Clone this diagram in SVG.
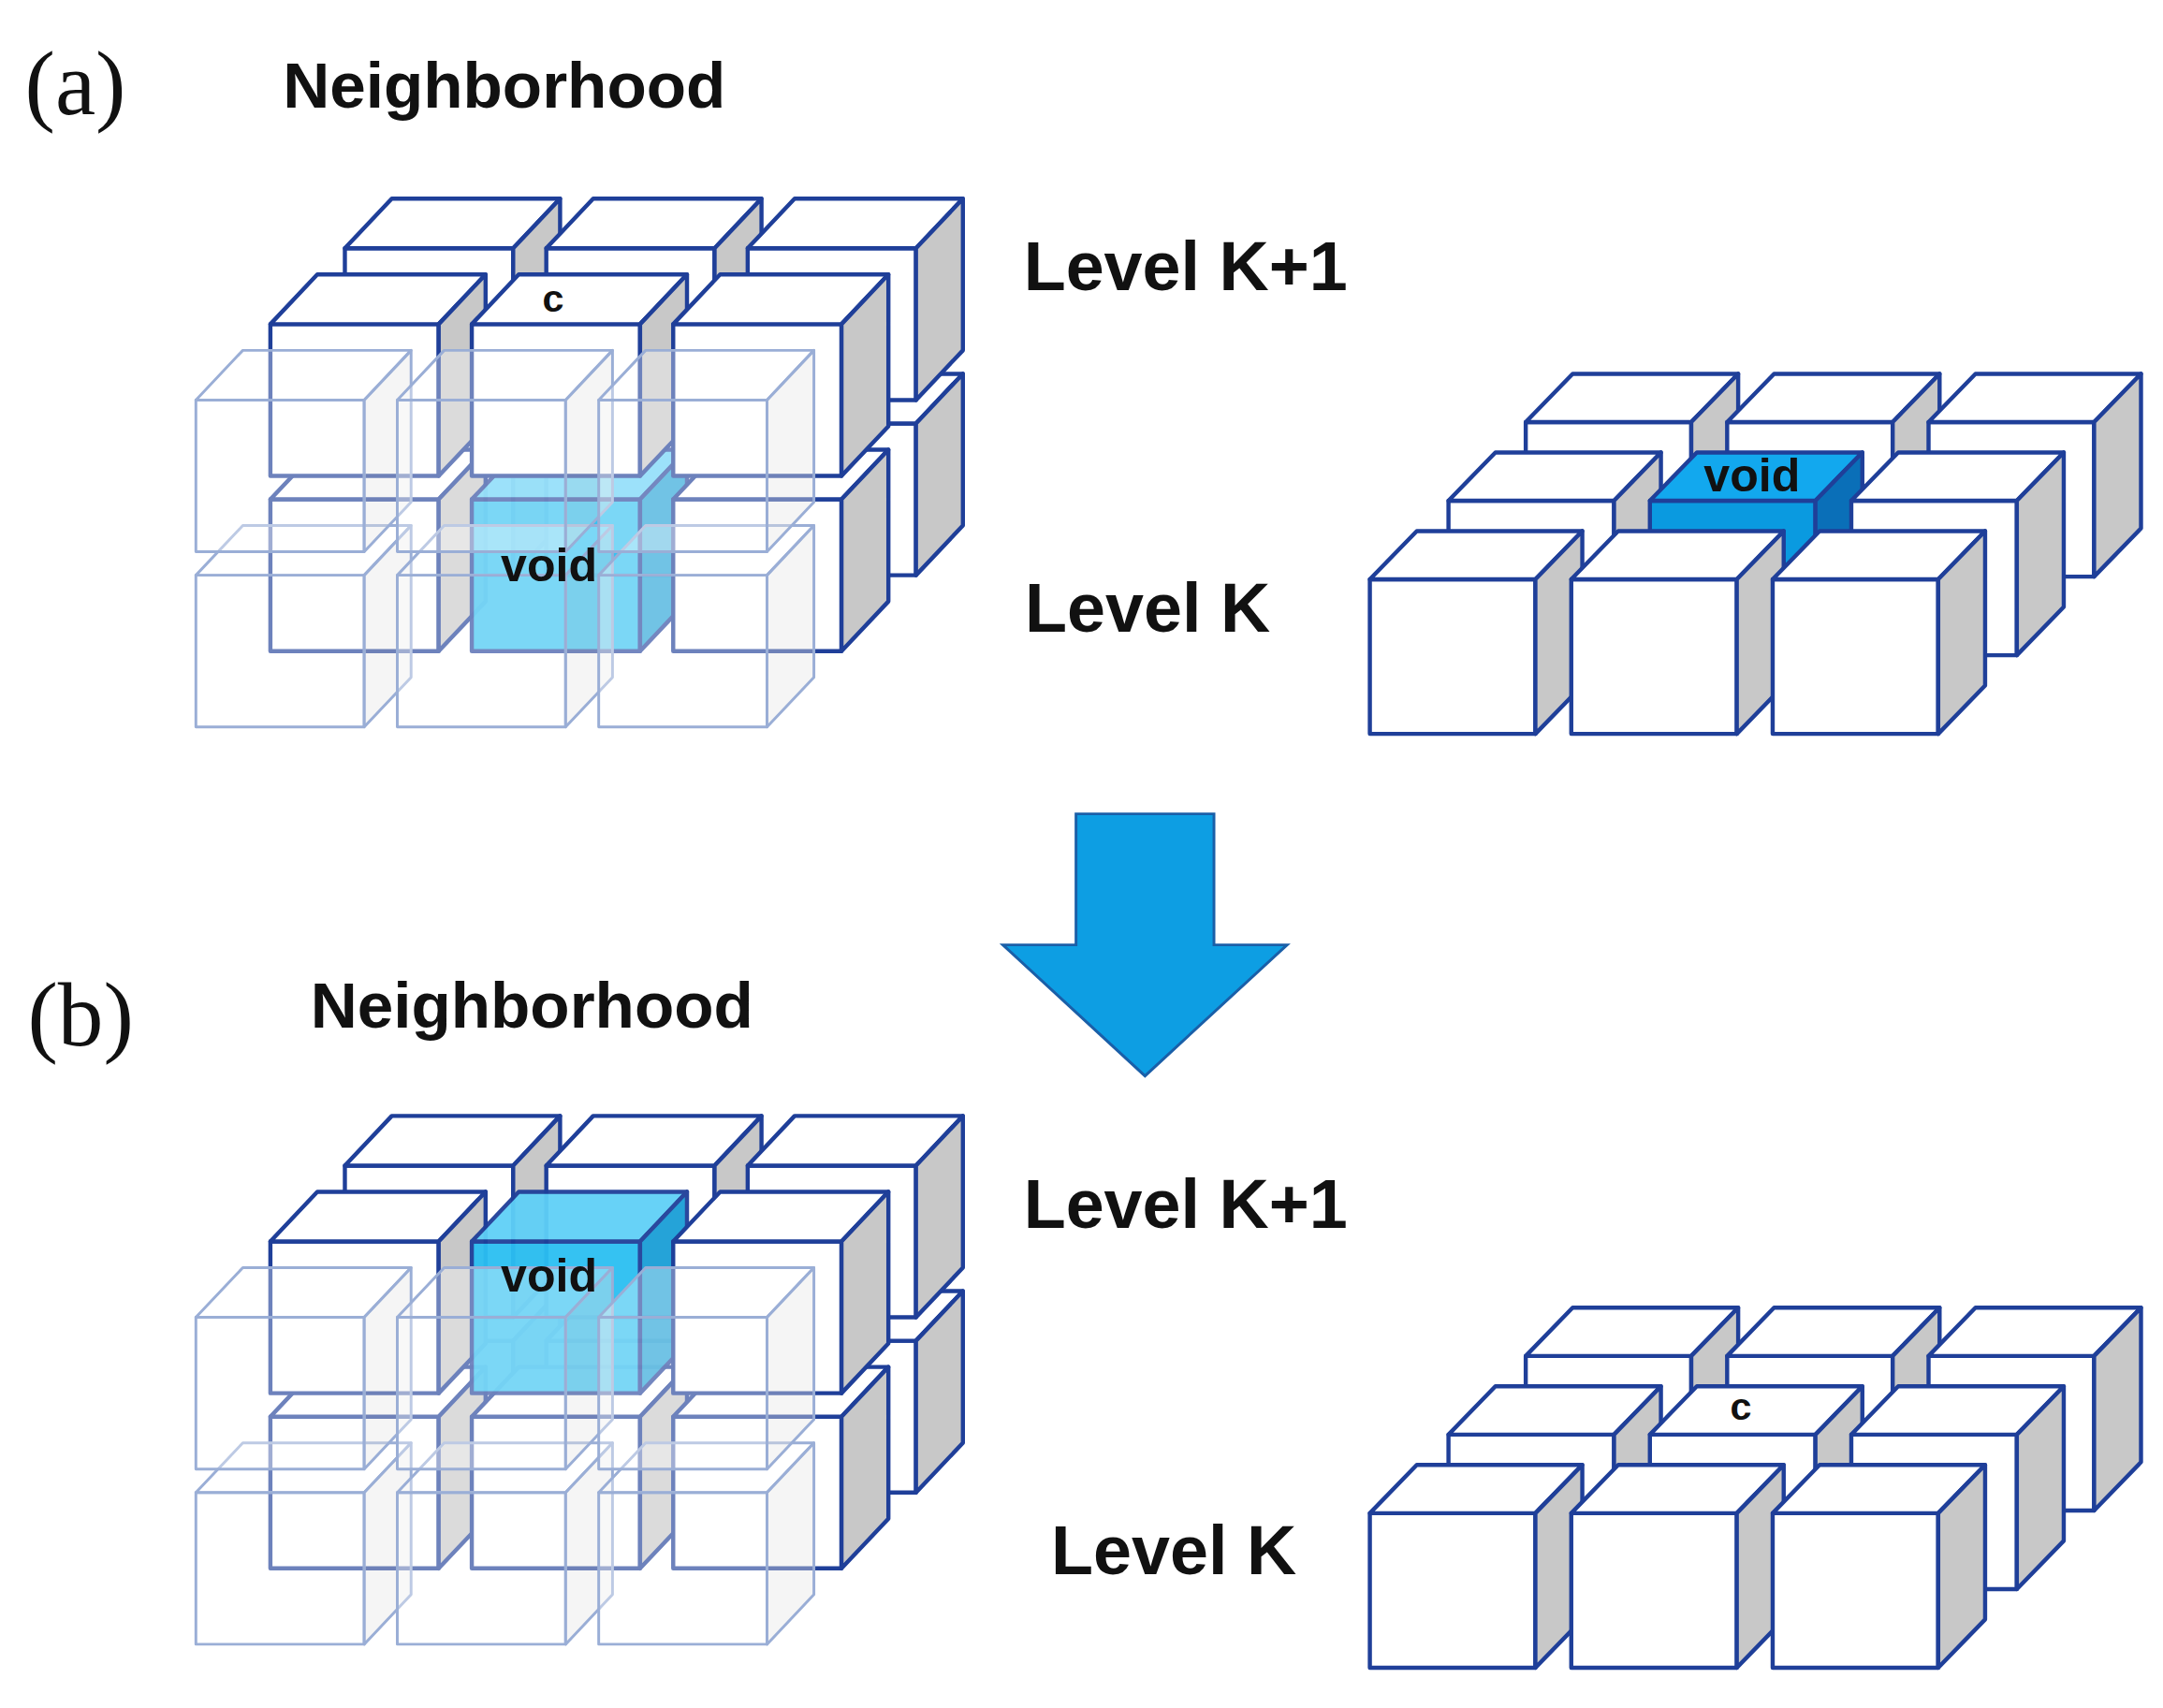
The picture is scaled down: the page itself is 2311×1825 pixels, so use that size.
<svg xmlns="http://www.w3.org/2000/svg" xmlns:xlink="http://www.w3.org/1999/xlink" width="2311" height="1825" viewBox="0 0 2311 1825">
<style>
.e{stroke:#1f3f99;stroke-width:3;stroke-linejoin:round}
.w{fill:#fff}.g{fill:#c8c8c8}
.f{stroke:#9aaed6;stroke-width:2;stroke-linejoin:round}
.fw{fill:#fff;fill-opacity:.35}.fg{fill:#e6e6e6;fill-opacity:.4}
.lab{font-family:"Liberation Sans",Arial,sans-serif;font-weight:bold;fill:#111}
.ser{font-family:"Liberation Serif","Times New Roman",serif;fill:#111}
</style>
<defs>
<g id="cL"><rect class="e w" x="0" y="0" width="122" height="110"/><polygon class="e w" points="0,0 34,-36 156,-36 122,0"/><polygon class="e g" points="122,0 156,-36 156,74 122,110"/></g>
<g id="cLF"><rect class="f fw" x="0" y="0" width="122" height="110"/><polygon class="f fw" points="0,0 34,-36 156,-36 122,0"/><polygon class="f fg" points="122,0 156,-36 156,74 122,110"/></g>
<g id="cLV" opacity="0.95"><rect class="e" fill="#2bbff2" x="0" y="0" width="122" height="110"/><polygon class="e" fill="#5fd0f7" points="0,0 34,-36 156,-36 122,0"/><polygon class="e" fill="#1a9fd6" points="122,0 156,-36 156,74 122,110"/></g>
<g id="cR"><rect class="e w" x="0" y="0" width="120" height="112"/><polygon class="e w" points="0,0 34,-35 154,-35 120,0"/><polygon class="e g" points="120,0 154,-35 154,77 120,112"/></g>
<g id="cRV"><rect class="e" fill="#0a9ae0" x="0" y="0" width="120" height="112"/><polygon class="e" fill="#12a8ee" points="0,0 34,-35 154,-35 120,0"/><polygon class="e" fill="#0a6fb8" points="120,0 154,-35 154,77 120,112"/></g>
</defs>
<rect width="2311" height="1825" fill="#fff"/>
<g transform="scale(1.4739)">
<g id="labels">
<text class="ser" x="18" y="83" font-size="66">(a)</text>
<text class="lab" x="205" y="78" font-size="47">Neighborhood</text>
<text class="lab" x="742" y="210" font-size="50">Level K+1</text>
<text class="lab" x="743" y="458" font-size="50">Level K</text>
<text class="ser" x="20" y="758" font-size="66">(b)</text>
<text class="lab" x="225" y="745" font-size="47">Neighborhood</text>
<text class="lab" x="742" y="890" font-size="50">Level K+1</text>
<text class="lab" x="762" y="1141" font-size="50">Level K</text>
</g>
<g id="connectors">
<polygon points="780,590 880,590 880,685 933,685 830,780 727,685 780,685" fill="#0d9ee3" stroke="#1a5fa8" stroke-width="2"/>
</g>
<g id="a-left">
<use href="#cL" x="250" y="307"/><use href="#cL" x="396" y="307"/><use href="#cL" x="542" y="307"/>
<use href="#cL" x="250" y="180"/><use href="#cL" x="396" y="180"/><use href="#cL" x="542" y="180"/>
<use href="#cL" x="196" y="362"/><use href="#cLV" x="342" y="362"/><use href="#cL" x="488" y="362"/>
<use href="#cL" x="196" y="235"/><use href="#cL" x="342" y="235"/><use href="#cL" x="488" y="235"/>
<use href="#cLF" x="142" y="417"/><use href="#cLF" x="288" y="417"/><use href="#cLF" x="434" y="417"/>
<use href="#cLF" x="142" y="290"/><use href="#cLF" x="288" y="290"/><use href="#cLF" x="434" y="290"/>
<text class="lab" x="401" y="226" font-size="28" text-anchor="middle">c</text>
<text class="lab" x="398" y="421" font-size="34" text-anchor="middle">void</text>
</g>
<g id="a-right">
<use href="#cR" x="1106" y="306"/><use href="#cR" x="1252" y="306"/><use href="#cR" x="1398" y="306"/>
<use href="#cR" x="1050" y="363"/><use href="#cRV" x="1196" y="363"/><use href="#cR" x="1342" y="363"/>
<use href="#cR" x="993" y="420"/><use href="#cR" x="1139" y="420"/><use href="#cR" x="1285" y="420"/>
<text class="lab" x="1270" y="356" font-size="34" text-anchor="middle">void</text>
</g>
<g id="b-left" transform="translate(0,665)">
<use href="#cL" x="250" y="307"/><use href="#cL" x="396" y="307"/><use href="#cL" x="542" y="307"/>
<use href="#cL" x="250" y="180"/><use href="#cL" x="396" y="180"/><use href="#cL" x="542" y="180"/>
<use href="#cL" x="196" y="362"/><use href="#cL" x="342" y="362"/><use href="#cL" x="488" y="362"/>
<use href="#cL" x="196" y="235"/><use href="#cLV" x="342" y="235"/><use href="#cL" x="488" y="235"/>
<use href="#cLF" x="142" y="417"/><use href="#cLF" x="288" y="417"/><use href="#cLF" x="434" y="417"/>
<use href="#cLF" x="142" y="290"/><use href="#cLF" x="288" y="290"/><use href="#cLF" x="434" y="290"/>
<text class="lab" x="398" y="271" font-size="34" text-anchor="middle">void</text>
</g>
<g id="b-right" transform="translate(0,677)">
<use href="#cR" x="1106" y="306"/><use href="#cR" x="1252" y="306"/><use href="#cR" x="1398" y="306"/>
<use href="#cR" x="1050" y="363"/><use href="#cR" x="1196" y="363"/><use href="#cR" x="1342" y="363"/>
<use href="#cR" x="993" y="420"/><use href="#cR" x="1139" y="420"/><use href="#cR" x="1285" y="420"/>
<text class="lab" x="1262" y="352" font-size="28" text-anchor="middle">c</text>
</g>
</g>
</svg>
